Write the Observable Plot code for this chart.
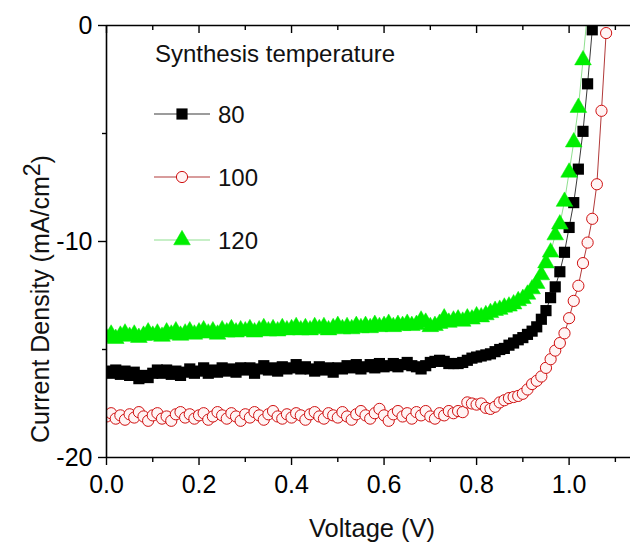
<!DOCTYPE html>
<html><head><meta charset="utf-8">
<script src="https://cdn.jsdelivr.net/npm/d3@7"></script>
<script src="https://cdn.jsdelivr.net/npm/@observablehq/plot@0.6"></script>
<style>
body{margin:0;background:#fff}
svg{font-family:"Liberation Sans",Arial,sans-serif}
</style>
</head><body><div id="chart"></div>
<script>
// Voltage grid (V)
const voltage = [
0.00,0.01,0.02,0.03,0.04,0.05,0.06,0.07,0.08,0.09,
0.10,0.11,0.12,0.13,0.14,0.15,0.16,0.17,0.18,0.19,
0.20,0.21,0.22,0.23,0.24,0.25,0.26,0.27,0.28,0.29,
0.30,0.31,0.32,0.33,0.34,0.35,0.36,0.37,0.38,0.39,
0.40,0.41,0.42,0.43,0.44,0.45,0.46,0.47,0.48,0.49,
0.50,0.51,0.52,0.53,0.54,0.55,0.56,0.57,0.58,0.59,
0.60,0.61,0.62,0.63,0.64,0.65,0.66,0.67,0.68,0.69,
0.70,0.71,0.72,0.73,0.74,0.75,0.76,0.77,0.78,0.79,
0.80,0.81,0.82,0.83,0.84,0.85,0.86,0.87,0.88,0.89,
0.90,0.91,0.92,0.93,0.94,0.95,0.96,0.97,0.98,0.99,
1.00,1.01,1.02,1.03,1.04,1.05,1.06,1.07,1.08];

// Current density (mA/cm2), synthesis temperature 80
const current80 = [
-16.00,-16.10,-15.95,-16.15,-16.00,-16.20,-16.05,-16.35,-16.20,-16.30,
-16.10,-15.95,-16.10,-15.95,-16.15,-16.00,-16.20,-16.05,-15.90,-16.10,
-16.00,-15.85,-16.10,-15.95,-16.05,-15.85,-16.00,-15.90,-16.05,-15.85,
-15.95,-15.85,-16.10,-15.90,-15.75,-15.95,-15.85,-16.00,-15.80,-15.90,
-15.85,-15.70,-15.90,-15.80,-15.90,-16.00,-15.80,-15.95,-15.85,-16.05,
-15.85,-15.90,-15.75,-15.85,-15.70,-15.90,-15.80,-15.70,-15.85,-15.65,
-15.80,-15.75,-15.65,-15.80,-15.70,-15.60,-15.75,-15.80,-15.90,-15.75,
-15.60,-15.55,-15.50,-15.55,-15.65,-15.65,-15.65,-15.60,-15.50,-15.40,
-15.35,-15.30,-15.25,-15.20,-15.10,-15.00,-14.95,-14.80,-14.70,-14.55,
-14.45,-14.30,-14.15,-13.95,-13.60,-13.20,-12.60,-12.10,-11.40,-10.50,
-9.35,-8.20,-6.65,-4.90,-2.70,-0.20];

// synthesis temperature 100
const current100 = [
-18.10,-17.95,-18.20,-18.05,-18.25,-18.00,-18.15,-17.90,-18.10,-18.30,
-18.05,-17.95,-18.20,-18.10,-18.30,-18.00,-17.90,-18.15,-18.00,-18.20,
-18.05,-17.95,-18.25,-18.10,-17.90,-18.05,-18.20,-17.95,-18.10,-18.30,
-18.00,-18.15,-17.90,-18.05,-18.25,-18.00,-17.85,-18.10,-18.20,-18.00,
-18.15,-17.95,-18.05,-18.25,-18.00,-17.90,-18.10,-18.20,-17.95,-18.05,
-18.15,-17.90,-18.10,-18.25,-18.00,-17.85,-18.05,-18.20,-17.95,-17.75,
-18.05,-18.30,-18.00,-17.85,-18.10,-17.95,-18.20,-17.90,-18.05,-17.85,
-18.10,-18.20,-17.95,-18.05,-17.85,-17.95,-17.85,-17.90,-17.45,-17.50,
-17.55,-17.50,-17.70,-17.75,-17.65,-17.45,-17.35,-17.25,-17.20,-17.15,
-17.05,-16.85,-16.60,-16.45,-16.25,-15.85,-15.45,-15.05,-14.70,-14.25,
-13.55,-12.75,-12.05,-11.00,-10.05,-8.95,-7.35,-3.95,-0.35];

// synthesis temperature 120
const current120 = [
-14.45,-14.30,-14.50,-14.35,-14.25,-14.40,-14.30,-14.45,-14.35,-14.20,
-14.35,-14.25,-14.40,-14.20,-14.30,-14.15,-14.35,-14.25,-14.15,-14.30,
-14.20,-14.10,-14.25,-14.15,-14.30,-14.10,-14.20,-14.05,-14.20,-14.10,
-14.15,-14.05,-14.20,-14.10,-14.00,-14.15,-14.05,-14.15,-14.00,-14.10,
-14.05,-13.95,-14.10,-14.00,-14.10,-13.95,-14.05,-13.95,-14.10,-14.00,
-13.90,-14.05,-13.95,-14.05,-13.90,-14.00,-13.90,-14.00,-13.85,-13.95,
-13.90,-13.80,-13.95,-13.85,-13.90,-13.80,-13.90,-13.85,-13.65,-13.75,
-13.95,-13.90,-13.80,-13.55,-13.75,-13.65,-13.60,-13.70,-13.55,-13.60,
-13.45,-13.50,-13.40,-13.30,-13.20,-13.15,-13.05,-13.00,-12.90,-12.75,
-12.65,-12.45,-12.20,-11.95,-11.55,-11.00,-10.50,-9.70,-9.20,-8.15,
-6.80,-5.40,-3.80,-1.60,0.70];

const seriesNames = ["80", "100", "120"];
const legendTitle = "Synthesis temperature";
const xMajorTicks = [0.0, 0.2, 0.4, 0.6, 0.8, 1.0];
const xMinorTicks = [0.1, 0.3, 0.5, 0.7, 0.9, 1.1];
const yMajorTicks = [0, -10, -20];
const yMinorTicks = [-5, -15];
const xTitle = "Voltage (V)";

const toRows = (arr) => arr.map((j, i) => ({v: voltage[i], j}));
const d80 = toRows(current80), d100 = toRows(current100), d120 = toRows(current120);

const styles = {
  "80":  {line: "#3a3a3a", symbol: "square",   r: 6.3, fill: "#000000", stroke: "none", sw: 0},
  "100": {line: "#b23a3a", symbol: "circle",   r: 5.6, fill: "#fff4f4", stroke: "#d01010", sw: 1},
  "120": {line: "#8fe08f", symbol: "triangle", r: 6.2, fill: "#00ee00", stroke: "#00ee00", sw: 0.5}
};

function seriesMarks(data, key) {
  const s = styles[key];
  return [
    Plot.line(data, {x: "v", y: "j", stroke: s.line, strokeWidth: 1, clip: true}),
    Plot.dot(data, {x: "v", y: "j", symbol: s.symbol, r: s.r, fill: s.fill, stroke: s.stroke, strokeWidth: s.sw, clip: true})
  ];
}

const plot = Plot.plot({
  width: 630, height: 543,
  marginLeft: 106, marginRight: 0, marginTop: 25, marginBottom: 86,
  x: {domain: [0, 1.15], range: [106, 638], axis: null},
  y: {domain: [-20, 0], range: [457, 25], axis: null},
  style: {fontFamily: '"Liberation Sans", Arial, sans-serif', fontSize: "25px", color: "black", background: "white"},
  marks: [
    ...seriesMarks(d80, "80"),
    ...seriesMarks(d100, "100"),
    ...seriesMarks(d120, "120"),
    Plot.ruleY([0, -20], {stroke: "black", strokeWidth: 1.6}),
    Plot.ruleX([0], {stroke: "black", strokeWidth: 1.6}),
    Plot.axisX(xMajorTicks, {anchor: "bottom", tickSize: 8, tickPadding: 10, strokeWidth: 1.4, tickFormat: d => d.toFixed(1), fontSize: 25, label: null}),
    Plot.axisX(xMinorTicks, {anchor: "bottom", tickSize: 5, strokeWidth: 1.4, tickFormat: () => "", label: null}),
    Plot.tickX(xMajorTicks, {stroke: "black", strokeWidth: 1.4, insetBottom: 424}),
    Plot.tickX(xMinorTicks, {stroke: "black", strokeWidth: 1.4, insetBottom: 427}),
    Plot.axisY(yMajorTicks, {anchor: "left", tickSize: 8, tickPadding: 6, strokeWidth: 1.4, tickFormat: d => String(d), fontSize: 25, label: null}),
    Plot.axisY(yMinorTicks, {anchor: "left", tickSize: 4, strokeWidth: 1.4, tickFormat: () => "", label: null})
  ]
});

const svg = d3.select(plot);
svg.style("overflow", "hidden");

// axis titles
svg.append("text")
  .attr("x", 372).attr("y", 537)
  .attr("text-anchor", "middle")
  .attr("font-size", 25.5).attr("fill", "#111")
  .text(xTitle);

const yt = svg.append("text")
  .attr("transform", "translate(49,443) rotate(-90)")
  .attr("text-anchor", "start")
  .attr("font-size", 25).attr("fill", "#111");
yt.append("tspan").text("Current Density (mA/cm");
yt.append("tspan").attr("dy", "-0.4em").attr("font-size", 23).text("2");
yt.append("tspan").attr("dy", "0.4em").text(")");

// legend
const lg = svg.append("g").attr("font-size", 24).attr("fill", "#111").attr("text-anchor", "start");
lg.append("text").attr("x", 155).attr("y", 62).text(legendTitle);
const symMap = {square: d3.symbolSquare, circle: d3.symbolCircle, triangle: d3.symbolTriangle};
seriesNames.forEach((name, i) => {
  const s = styles[name];
  const yy = 114 + i * 63;
  lg.append("line").attr("x1", 154).attr("x2", 210).attr("y1", yy).attr("y2", yy)
    .attr("stroke", s.line).attr("stroke-width", 1.2);
  lg.append("path").attr("transform", `translate(182,${yy})`)
    .attr("d", d3.symbol(symMap[s.symbol], Math.PI * s.r * s.r)())
    .attr("fill", s.fill).attr("stroke", s.stroke === "none" ? null : s.stroke).attr("stroke-width", s.sw);
  lg.append("text").attr("x", 218).attr("y", yy + 9).text(name);
});

document.getElementById("chart").appendChild(plot);
</script>
</body></html>
